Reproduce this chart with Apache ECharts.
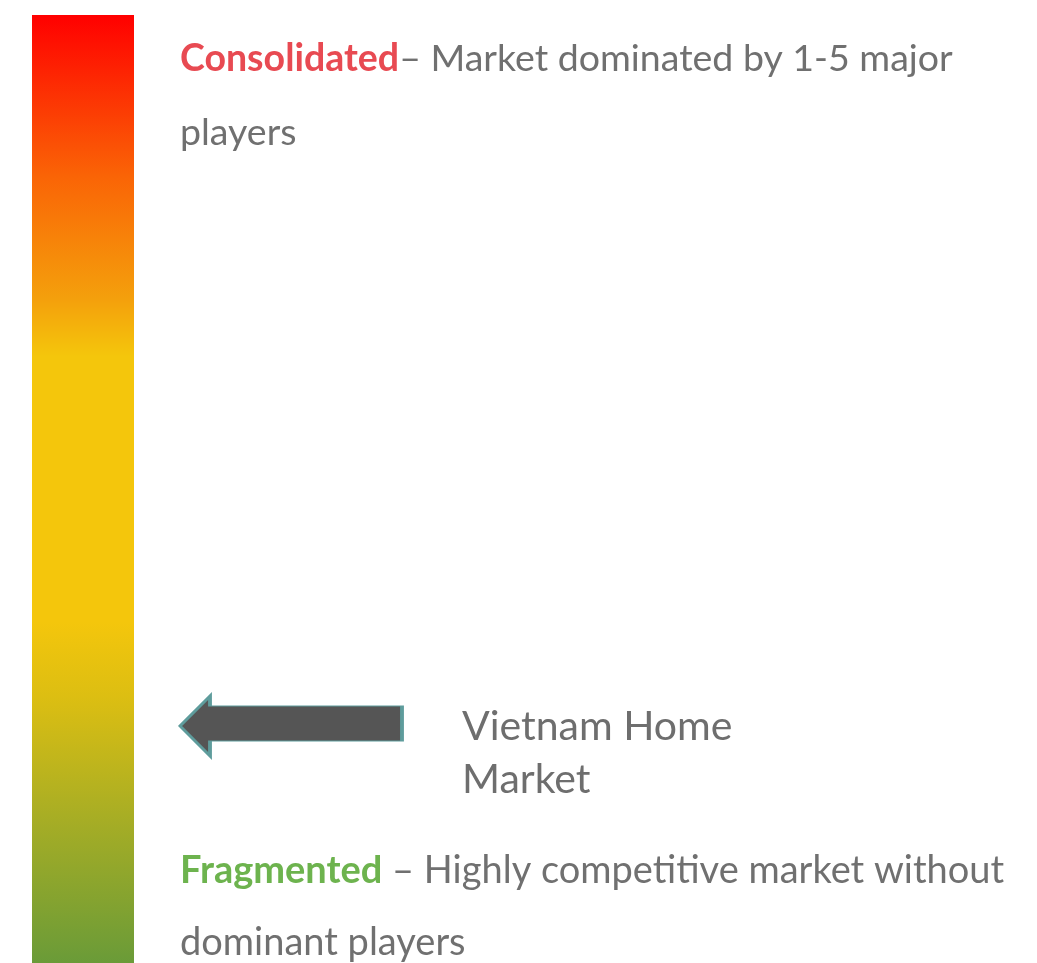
<!DOCTYPE html>
<html>
<head>
<meta charset="utf-8">
<script src="https://cdn.jsdelivr.net/npm/echarts@6/dist/echarts.min.js"></script>
<style>
html,body{margin:0;padding:0;background:#fff;}
#main{width:1037px;height:963px;}
</style>
</head>
<body>
<div id="main"></div>
<script>
// Scale: 0 = fragmented, 100 = consolidated
const scaleLevels = ['Fragmented', 'Consolidated'];
const scaleBar = [[83, 100]];           // [x position, full height of the scale]
const marketName = 'Vietnam Home\nMarket';
const marketPosition = [[291, 25]];     // arrow position on the scale
const topLabel = 'Consolidated';
const topDesc = '– Market dominated by 1-5 major';
const topDesc2 = 'players';
const bottomLabel = 'Fragmented';
const bottomDesc = ' – Highly competitive market without';
const bottomDesc2 = 'dominant players';

const chart = echarts.init(document.getElementById('main'));
const font = 'Lato, "Open Sans", sans-serif';
chart.setOption({
  animation: false,
  grid: {left: 0, right: 0, top: 15, bottom: 0},
  xAxis: {type: 'value', min: 0, max: 1037, show: false},
  yAxis: {type: 'value', min: 0, max: 100, show: false},
  series: [
    {
      type: 'bar',
      data: scaleBar,
      barWidth: 102,
      itemStyle: {
        color: new echarts.graphic.LinearGradient(0, 0, 0, 1, [
          {offset: 0, color: '#ff0000'},
          {offset: 0.17, color: '#fa6406'},
          {offset: 0.3, color: '#f4a00c'},
          {offset: 0.36, color: '#f4c60c'},
          {offset: 0.64, color: '#f4c60c'},
          {offset: 0.72, color: '#dcbe12'},
          {offset: 0.85, color: '#a6ad25'},
          {offset: 1, color: '#6a9b38'}
        ])
      }
    },
    {
      type: 'scatter',
      data: marketPosition,
      symbol: 'path://M0,30 L30,0 L30,10 L222,10 L222,45 L30,45 L30,60 Z',
      symbolSize: [222, 60],
      symbolKeepAspect: false,
      itemStyle: {color: '#555555', borderColor: '#5e9c9c', borderWidth: 2, opacity: 1},
      label: {
        show: true,
        position: 'right',
        distance: 58,
        offset: [0, 27],
        formatter: marketName,
        fontFamily: font,
        fontSize: 41,
        lineHeight: 53,
        color: '#6e6e6e'
      }
    }
  ],
  graphic: [
    {
      type: 'text', left: 180, top: 40,
      style: {
        text: '{a|' + topLabel + '}{b|' + topDesc + '}\n{b|' + topDesc2 + '}',
        rich: {
          a: {fontFamily: font, fontSize: 37.5, fontWeight: 'bold', fill: '#e84a52', lineHeight: 74},
          b: {fontFamily: font, fontSize: 37.5, fill: '#707070', lineHeight: 74}
        }
      }
    },
    {
      type: 'text', left: 180, top: 852,
      style: {
        text: '{a|' + bottomLabel + '}{b|' + bottomDesc + '}\n{b|' + bottomDesc2 + '}',
        rich: {
          a: {fontFamily: font, fontSize: 38, fontWeight: 'bold', fill: '#6db34e', lineHeight: 72},
          b: {fontFamily: font, fontSize: 38, fill: '#707070', lineHeight: 72}
        }
      }
    }
  ]
});
</script>
</body>
</html>
